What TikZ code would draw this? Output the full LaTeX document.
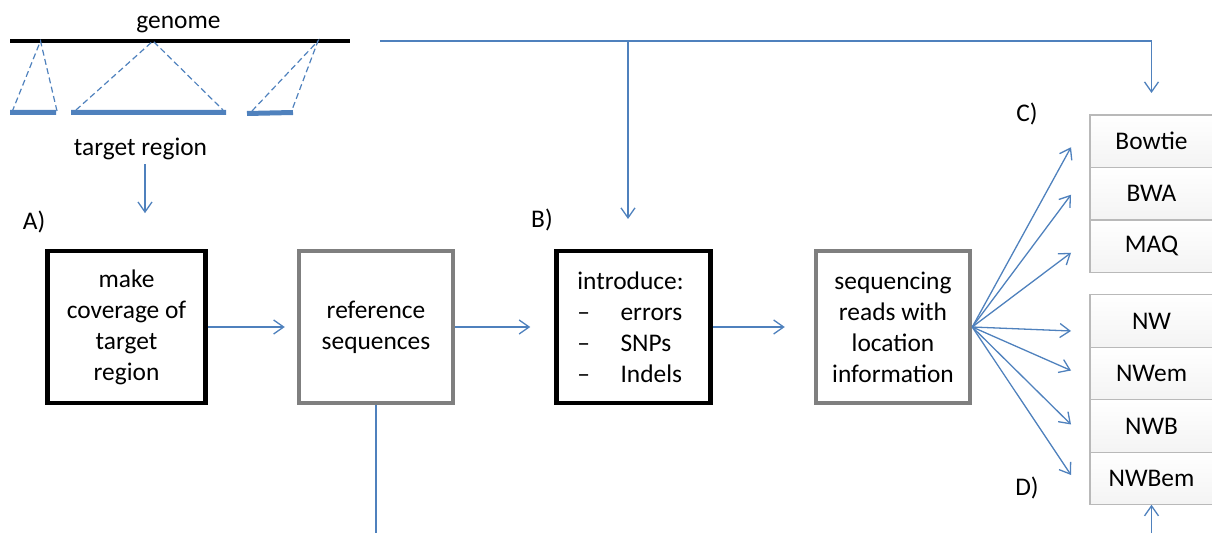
\documentclass[tikz,border=0pt]{standalone}
\usepackage{fontspec}
\setmainfont{Carlito}
\usepackage{xcolor}
\definecolor{linkblue}{HTML}{4F81BD}
\definecolor{framegray}{HTML}{7F7F7F}
\usepackage{tikz}
\usetikzlibrary{arrows.meta,positioning}
\tikzset{
  stagebox/.style = {rectangle, draw=black, line width=4.5pt, fill=white,
                     minimum width=154pt, minimum height=152pt, align=center,
                     inner sep=2pt},
  grayframe/.style = {stagebox, draw=framegray},
  toolbox/.style  = {rectangle, draw=gray!55, line width=1.3pt, outer sep=0pt,
                     top color=white, bottom color=gray!9,
                     minimum width=123pt, minimum height=52.5pt},
  tag/.style      = {inner sep=0pt},
  link/.style     = {-{Straight Barb[length=10pt,width=14pt]}, line width=1.3pt,
                     draw=linkblue},
  plain/.style    = {line width=1.3pt, draw=linkblue}
}

\begin{document}
\begin{tikzpicture}[x=1pt, y=1pt, font=\fontsize{25.4}{31}\selectfont]
  \useasboundingbox (0,0) rectangle (1212,533);

  % genome with the target regions picked out of it
  \node[tag] (genome) at (178.5,508) {genome};
  \draw[line width=4pt] (10,492) -- (350,492);
  \draw[linkblue, line width=1.2pt, dash pattern=on 6pt off 3.5pt]
    (12,421) -- (40.5,492) -- (57,422)
    (76,423) -- (153,492) -- (223,423)
    (252,422) -- (318,492) -- (292,423);
  \draw[linkblue, line width=5pt] (10,420.5) -- (56,420.5)
    (71,420.5) -- (226,420.5) (247,419.5) -- (293,420.5);
  \node[tag] (target) at (140.5,384) {target region};

  % pipeline
  \node[stagebox, minimum width=158pt] (cover) at (126.5,206)
    {make\\coverage of\\target\\region};
  \node[grayframe, right=89pt of cover] (refseq) {reference\\sequences};
  \node[stagebox, right=99pt of refseq, align=left] (intro)
    {\hspace*{-6pt}introduce:\\\hspace*{-6pt}\makebox[1.7em][l]{--}errors\\
     \hspace*{-6pt}\makebox[1.7em][l]{--}SNPs\\\hspace*{-6pt}\makebox[1.7em][l]{--}Indels};
  \node[grayframe, right=101pt of intro] (reads)
    {sequencing\\reads with\\location\\information};

  % aligners
  \node[toolbox] (bowtie) at (1151.5,391.75) {Bowtie};
  \node[toolbox, below=0pt of bowtie] (bwa) {BWA};
  \node[toolbox, below=0pt of bwa] (maq) {MAQ};
  \node[toolbox] (nw) at (1151.5,212) {NW};
  \node[toolbox, below=0pt of nw] (nwem) {NWem};
  \node[toolbox, below=0pt of nwem] (nwb) {NWB};
  \node[toolbox, below=0pt of nwb] (nwbem) {NWBem};

  \node[tag] (tagA) at (34,311) {A)};
  \node[tag] (tagB) at (542,313) {B)};
  \node[tag] (tagC) at (1027,419) {C)};
  \node[tag] (tagD) at (1027,45) {D)};

  % connectors
  \draw[link] ([shift={(4.5pt,-4pt)}]target.south) -- ++(0,-49);
  \foreach \a/\b/\s in {cover/refseq/12,refseq/intro/24,intro/reads/29}
    \draw[link, shorten >=\s pt] (\a.east) -- (\b.west);
  \foreach \t/\d in {bowtie/-6,bwa/-1,maq/-6.5,nw/-10,nwem/3,nwb/1.5,nwbem/3.5}
    \draw[link] (reads.east) -- ([shift={(-19pt,\d pt)}]\t.west);

  \coordinate (feed) at (380,492);
  \coordinate (split) at (628,492);
  \draw[link] (feed) -- (feed -| bowtie.north) -- ([yshift=22pt]bowtie.north);
  \draw[link] (split) -- ++(0,-178);

  \coordinate (refout) at (376,0);
  \coordinate (nwbin) at (1151.5,0);
  \draw[plain] (refseq.south) -- (refout);
  \draw[link] (nwbin) -- (nwbem.south);
\end{tikzpicture}
\end{document}
